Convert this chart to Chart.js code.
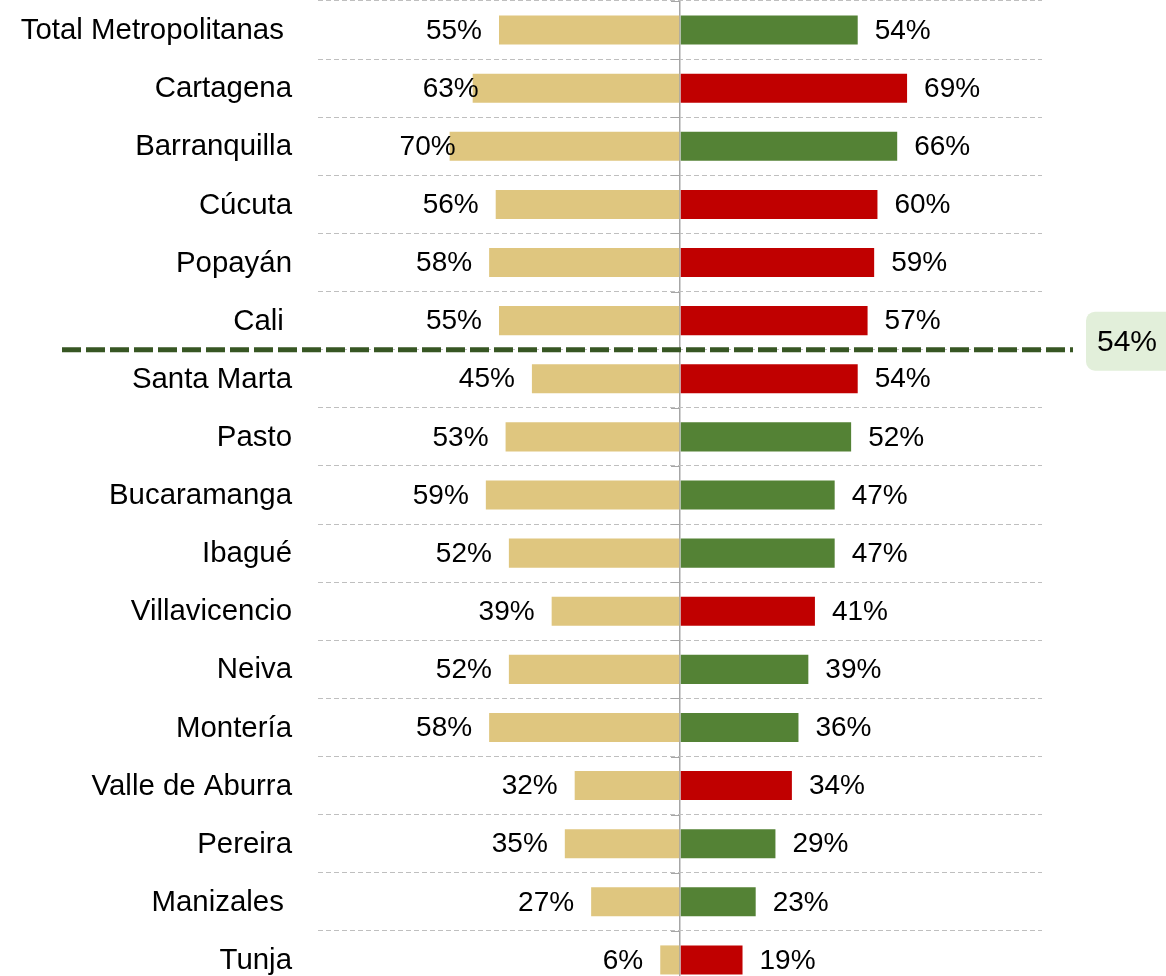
<!DOCTYPE html>
<html lang="es">
<head>
<meta charset="utf-8">
<title>Metropolitanas</title>
<script src="https://cdn.jsdelivr.net/npm/chart.js@4.4.1/dist/chart.umd.min.js"></script>
<style>
  html, body { margin: 0; padding: 0; overflow: hidden; background: #fff; }
  #wrap { position: relative; width: 1166px; height: 990px; }
</style>
</head>
<body>
<div id="wrap"><canvas id="brecha"></canvas></div>
<script>
// ciudades (los espacios finales se conservan tal cual en las etiquetas)
const ciudades = ['Total Metropolitanas ', 'Cartagena', 'Barranquilla', 'Cúcuta', 'Popayán', 'Cali ',
  'Santa Marta', 'Pasto', 'Bucaramanga', 'Ibagué', 'Villavicencio', 'Neiva', 'Montería',
  'Valle de Aburra', 'Pereira', 'Manizales ', 'Tunja'];
const valoresIzq = [55, 63, 70, 56, 58, 55, 45, 53, 59, 52, 39, 52, 58, 32, 35, 27, 6];
const valoresDer = [54, 69, 66, 60, 59, 57, 54, 52, 47, 47, 41, 39, 36, 34, 29, 23, 19];
const umbral = 54;

const FUENTE = '"Liberation Sans", Arial, sans-serif';

// etiquetas izquierdas que se montan sobre la barra (índice -> px hacia la derecha)
const ajusteIzq = { 1: 23, 2: 23 };

// rojo si sube respecto a la barra izquierda, verde si baja
const coloresDer = valoresDer.map((v, i) => v > valoresIzq[i] ? '#C00000' : '#548235');

// primera ciudad (sin contar el total) que queda en o bajo el umbral
const corte = valoresDer.findIndex((v, i) => i > 0 && v <= umbral);

const etiquetas = {
  id: 'etiquetas',
  afterDatasetsDraw(chart) {
    const { ctx, chartArea, scales: { x, y } } = chart;
    const x0 = x.getPixelForValue(0);
    ctx.save();

    // marcas cortas sobre el eje central
    ctx.strokeStyle = '#A6A6A6';
    ctx.lineWidth = 1;
    for (let i = 0; i <= ciudades.length; i++) {
      const yy = Math.round(y.getPixelForValue(i - 0.5)) + 0.5;
      ctx.beginPath();
      ctx.moveTo(x0 - 9, yy);
      ctx.lineTo(x0, yy);
      ctx.stroke();
    }

    ctx.fillStyle = '#000';
    ctx.textBaseline = 'middle';
    ciudades.forEach((c, i) => {
      const yc = y.getPixelForValue(i) + 1;
      // nombre de la ciudad
      ctx.font = '29.4px ' + FUENTE;
      ctx.textAlign = 'right';
      ctx.fillText(c, chartArea.left - 26, yc);
      // porcentajes a cada lado
      ctx.font = '28px ' + FUENTE;
      ctx.fillText(valoresIzq[i] + '%', x.getPixelForValue(-valoresIzq[i]) - 17 + (ajusteIzq[i] || 0), yc);
      ctx.textAlign = 'left';
      ctx.fillText(valoresDer[i] + '%', x.getPixelForValue(valoresDer[i]) + 17, yc);
    });

    // línea del promedio
    const yl = (y.getPixelForValue(corte - 1) + y.getPixelForValue(corte)) / 2;
    ctx.strokeStyle = '#375623';
    ctx.lineWidth = 5;
    ctx.setLineDash([19, 5]);
    ctx.beginPath();
    ctx.moveTo(62, yl);
    ctx.lineTo(1073, yl);
    ctx.stroke();
    ctx.setLineDash([]);

    // recuadro con el valor
    ctx.fillStyle = '#E2EFDA';
    ctx.beginPath();
    ctx.roundRect(1086, yl - 38, 96, 59, 9);
    ctx.fill();
    ctx.fillStyle = '#000';
    ctx.textAlign = 'left';
    ctx.font = '30px ' + FUENTE;
    ctx.fillText(umbral + '%', 1097, yl - 7);

    ctx.restore();
  }
};

new Chart(document.getElementById('brecha'), {
  type: 'bar',
  data: {
    labels: ciudades,
    datasets: [{
      data: valoresIzq.map(v => -v),
      backgroundColor: '#DFC67F',
      barPercentage: 0.5,
      categoryPercentage: 1
    }, {
      data: valoresDer,
      backgroundColor: coloresDer,
      barPercentage: 0.5,
      categoryPercentage: 1
    }]
  },
  options: {
    indexAxis: 'y',
    responsive: true,
    maintainAspectRatio: false,
    animation: false,
    layout: { padding: { top: 1, bottom: 1, right: 124 } },
    plugins: {
      legend: { display: false },
      tooltip: { enabled: false }
    },
    scales: {
      x: {
        stacked: true,
        min: -110,
        max: 110,
        ticks: { display: false, stepSize: 10 },
        grid: {
          color: c => c.tick && c.tick.value === 0 ? '#A6A6A6' : 'rgba(0,0,0,0)',
          lineWidth: 1.5,
          drawTicks: false
        },
        border: { display: false }
      },
      y: {
        stacked: true,
        afterFit: s => { s.width = 318; },
        ticks: { display: false },
        grid: { color: '#BFBFBF', drawTicks: false, offset: true },
        border: { display: false, dash: [5, 3] }
      }
    }
  },
  plugins: [etiquetas]
});
</script>
</body>
</html>
